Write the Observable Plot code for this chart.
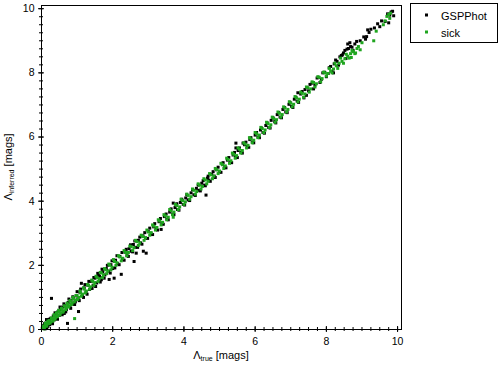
<!DOCTYPE html>
<html><head><meta charset="utf-8">
<script src="https://cdn.jsdelivr.net/npm/d3@7"></script>
<script src="https://cdn.jsdelivr.net/npm/@observablehq/plot@0.6"></script>
<style>body{margin:0;background:#fff} #chart{width:500px;height:366px}</style>
</head><body><div id="chart"></div>
<script>
const seriesNames = ["GSPPhot", "sick"];
const seriesColors = ["#000000", "#1fa51f"];

const gsTrue = [0.03,0.06,0.1,0.12,0.14,0.18,0.2,0.23,0.26,0.28,0.3,0.33,0.36,0.4,0.42,0.46,0.5,0.53,0.56,0.6,0.64,0.66,0.7,0.73,0.75,0.8,0.83,0.87,0.9,0.95,0.98,1.04,1.02,1.08,1.12,1.15,1.2,1.25,1.3,1.35,1.4,1.45,1.5,1.55,1.6,1.63,1.68,1.72,1.78,1.82,1.9,1.88,1.95,2.0,2.04,2.08,2.14,2.2,2.24,2.28,2.35,2.4,2.46,2.52,2.6,2.58,2.66,2.64,2.72,2.78,2.86,2.85,2.94,2.92,3.0,3.08,3.15,3.22,3.3,3.36,3.38,3.45,3.52,3.6,3.7,3.68,3.75,3.82,3.9,3.98,4.05,4.12,4.2,4.28,4.35,4.42,4.5,4.58,4.62,4.68,4.7,4.78,4.85,4.92,5.0,5.08,5.15,5.22,5.3,5.38,5.46,5.46,5.66,5.45,5.52,5.6,5.7,5.78,5.85,5.92,6.0,6.08,6.15,6.22,6.3,6.38,6.45,6.55,6.62,6.7,6.78,6.86,6.95,7.02,7.1,7.2,7.18,7.28,7.37,7.4,7.5,7.6,7.68,7.78,7.86,7.95,8.05,8.12,8.2,8.22,8.3,8.38,8.45,8.52,8.6,8.62,8.68,8.55,8.75,8.8,9.13,9.16,9.2,9.44,9.5,9.75,9.78,9.89,9.82,
  0.08,0.15,0.22,0.31,0.38,0.45,0.52,0.58,0.63,0.68,0.77,0.82,0.88,0.93,1.0,1.06,1.1,1.18,1.22,1.28,1.33,1.42,1.47,1.52,1.58,1.65,1.7,1.76,1.85,1.93,1.98,2.06,2.12,2.18,2.26,2.32,2.38,2.44,2.5,2.56,2.62,2.7,2.76,2.82,2.9,2.98,3.04,3.12,3.18,3.26,3.34,3.42,3.5,3.56,3.64,3.72,3.8,3.86,3.94,4.02,4.08,4.16,4.24,4.32,4.4,4.46,4.54,4.6,4.66,4.74,4.82,4.88,4.96,5.04,5.1,5.18,5.26,5.34,5.42,5.5,5.56,5.64,5.74,5.82,5.88,5.96,6.04,6.12,6.18,6.26,6.34,6.42,6.5,6.58,6.66,6.74,6.82,6.9,6.98,7.06,7.14,7.22,7.32,7.44,7.54,7.64,7.74,7.82,7.9,8.0,8.08,8.16,8.26,8.34,8.42,8.48,8.58,8.66,8.72,8.85,8.95,9.05,9.1,9.25,9.35,9.55,9.65,9.72,9.86];
const gsInf  = [0.05,0.12,0.02,0.2,0.31,0.1,0.26,0.15,0.35,0.97,0.22,0.42,0.3,0.48,0.36,0.55,0.44,0.62,0.5,0.7,0.5,0.74,0.62,0.19,0.84,0.72,0.9,0.8,0.98,0.86,1.05,0.56,0.95,1.16,1.44,1.05,1.3,1.18,1.38,1.25,1.5,1.38,1.6,1.45,1.68,1.66,1.55,1.8,1.7,1.9,1.56,1.82,2.02,1.9,1.6,2.16,2.05,2.28,1.72,2.2,2.42,2.3,2.52,2.44,2.12,2.65,2.38,2.56,2.78,2.7,2.44,2.92,2.38,2.85,3.06,2.98,3.2,3.14,3.36,3.12,3.3,3.52,3.44,3.66,3.94,3.6,3.8,3.74,3.96,3.9,4.1,4.04,4.26,4.2,4.4,4.34,4.56,4.5,4.19,4.78,4.66,4.84,4.78,4.98,4.92,5.14,5.08,5.28,5.22,5.44,5.81,5.66,5.81,5.38,5.58,5.52,5.76,5.7,5.92,5.84,6.06,6.0,6.22,6.14,6.36,6.3,6.52,6.48,6.7,6.62,6.86,6.78,7.02,6.96,7.18,7.38,7.12,7.34,7.22,7.48,7.44,7.68,7.62,7.86,7.8,8.02,7.98,8.2,8.0,8.28,8.36,8.5,8.56,8.7,8.9,8.76,8.82,8.45,8.7,8.9,9.13,9.34,9.26,9.53,9.44,9.56,9.8,9.78,9.9,
  0.18,0.05,0.32,0.18,0.52,0.32,0.7,0.46,0.8,0.55,0.95,0.66,1.02,0.78,1.18,0.9,1.26,1.0,1.4,1.1,1.5,1.28,1.62,1.34,1.75,1.48,1.88,1.6,2.0,1.76,2.14,1.92,2.3,2.02,2.4,2.16,2.5,2.28,2.64,2.42,2.76,2.56,2.88,2.66,3.02,2.84,3.16,2.96,3.3,3.1,3.46,3.28,3.6,3.42,3.76,3.58,3.92,3.72,4.06,3.88,4.2,4.02,4.36,4.18,4.5,4.32,4.64,4.48,4.72,4.62,4.92,4.74,5.06,4.9,5.2,5.04,5.36,5.2,5.52,5.36,5.66,5.5,5.84,5.68,5.98,5.82,6.14,5.98,6.28,6.12,6.44,6.28,6.6,6.44,6.76,6.6,6.92,6.76,7.08,6.92,7.24,7.08,7.42,7.3,7.64,7.5,7.84,7.7,8.0,7.88,8.16,8.04,8.4,8.24,8.54,8.62,8.74,8.94,8.8,8.98,9.0,9.12,9.05,9.36,9.4,9.62,9.6,9.84,9.92];

const skTrue = [0.02,0.05,0.08,0.1,0.13,0.16,0.2,0.22,0.26,0.3,0.33,0.36,0.4,0.43,0.47,0.5,0.54,0.58,0.62,0.66,0.7,0.74,0.78,0.82,0.86,0.9,0.93,0.95,1.0,1.05,1.1,1.15,1.2,1.26,1.32,1.38,1.44,1.5,1.56,1.62,1.68,1.74,1.8,1.86,1.92,1.98,2.05,2.12,2.2,2.28,2.36,2.44,2.52,2.6,2.68,2.76,2.84,2.92,3.0,3.08,3.16,3.24,3.32,3.4,3.48,3.56,3.64,3.7,3.72,3.8,3.88,3.96,4.04,4.12,4.2,4.28,4.36,4.44,4.52,4.6,4.68,4.76,4.84,4.92,5.0,5.08,5.16,5.24,5.32,5.4,5.48,5.56,5.64,5.72,5.8,5.88,5.96,6.04,6.12,6.2,6.28,6.36,6.44,6.52,6.6,6.68,6.76,6.84,6.92,7.0,7.08,7.16,7.24,7.32,7.4,7.48,7.56,7.64,7.72,7.8,7.88,7.96,8.04,8.12,8.2,8.28,8.36,8.44,8.52,8.6,8.68,8.76,8.82,8.7,8.9,9.33,9.0,9.6,9.7,9.78,9.8,
  0.04,0.07,0.11,0.15,0.18,0.24,0.28,0.32,0.35,0.38,0.42,0.45,0.48,0.52,0.56,0.6,0.64,0.68,0.72,0.76,0.8,0.84,0.88,0.92,0.97,1.02,1.08,1.12,1.18,1.23,1.29,1.35,1.41,1.47,1.53,1.59,1.65,1.71,1.77,1.83,1.89,1.95,2.02,2.09,2.16,2.24,2.32,2.4,2.48,2.56,2.64,2.72,2.8,2.88,2.96,3.04,3.12,3.2,3.28,3.36,3.44,3.52,3.6,3.68,3.76,3.84,3.92,4.0,4.08,4.16,4.24,4.32,4.4,4.48,4.56,4.64,4.72,4.8,4.88,4.96,5.04,5.12,5.2,5.28,5.36,5.44,5.52,5.6,5.68,5.76,5.84,5.92,6.0,6.08,6.16,6.24,6.32,6.4,6.48,6.56,6.64,6.72,6.8,6.88,6.96,7.04,7.12,7.2,7.28,7.36,7.44,7.52,7.6,7.68,7.76,7.84,7.92,8.0,8.08,8.16,8.24,8.32,8.4,8.48,8.56,8.64,8.72,8.8,8.86,8.95,9.4,9.65,9.75];
const skInf  = [0.04,0.1,0.06,0.16,0.1,0.2,0.18,0.28,0.24,0.34,0.3,0.42,0.38,0.5,0.44,0.56,0.52,0.62,0.58,0.72,0.68,0.78,0.74,0.88,0.82,0.96,0.34,0.92,1.06,1.0,1.14,1.1,1.26,1.2,1.38,1.33,1.5,1.46,1.62,1.58,1.76,1.7,1.86,1.82,2.0,1.94,2.12,2.08,2.26,2.22,2.4,2.4,2.58,2.55,2.74,2.7,2.9,2.86,3.04,3.02,3.22,3.18,3.38,3.34,3.54,3.5,3.7,3.5,3.66,3.86,3.82,4.02,3.98,4.18,4.14,4.34,4.3,4.5,4.46,4.66,4.62,4.82,4.78,4.98,4.94,5.14,5.1,5.3,5.26,5.46,5.42,5.62,5.58,5.78,5.74,5.94,5.9,6.1,6.06,6.26,6.22,6.42,6.38,6.58,6.54,6.74,6.7,6.9,6.86,7.06,7.02,7.22,7.18,7.36,7.34,7.54,7.5,7.7,7.66,7.86,7.82,8.0,7.98,8.06,8.12,8.22,8.3,8.36,8.44,8.52,8.6,8.66,8.62,8.48,8.82,9.0,8.94,9.5,9.76,9.7,9.86,
  0.08,0.02,0.2,0.12,0.26,0.2,0.36,0.26,0.46,0.32,0.52,0.4,0.6,0.46,0.66,0.54,0.74,0.62,0.82,0.7,0.9,0.78,1.0,0.86,1.06,0.94,1.2,1.04,1.3,1.14,1.4,1.26,1.54,1.38,1.66,1.5,1.78,1.62,1.9,1.74,2.04,1.86,2.18,2.0,2.3,2.14,2.46,2.3,2.6,2.46,2.78,2.62,2.94,2.78,3.1,2.94,3.26,3.1,3.42,3.26,3.58,3.42,3.74,3.58,3.9,3.74,4.06,3.9,4.22,4.06,4.38,4.22,4.54,4.38,4.7,4.54,4.86,4.7,5.02,4.86,5.18,5.02,5.34,5.18,5.5,5.34,5.66,5.5,5.82,5.66,5.98,5.82,6.14,5.98,6.3,6.14,6.46,6.3,6.62,6.46,6.78,6.62,6.94,6.78,7.1,6.94,7.26,7.1,7.4,7.24,7.56,7.4,7.72,7.56,7.88,7.72,8.02,7.9,8.14,8.0,8.3,8.14,8.46,8.3,8.58,8.46,8.7,8.6,8.76,8.72,9.3,9.62,9.82];

const majorTicks = [0, 2, 4, 6, 8, 10];
const minorTicks = [0,0.25,0.5,0.75,1,1.25,1.5,1.75,2,2.25,2.5,2.75,3,3.25,3.5,3.75,4,4.25,4.5,4.75,5,5.25,5.5,5.75,6,6.25,6.5,6.75,7,7.25,7.5,7.75,8,8.25,8.5,8.75,9,9.25,9.5,9.75,10];

const rows = [];
gsTrue.forEach((t, i) => rows.push({series: seriesNames[0], t, inf: gsInf[i]}));
skTrue.forEach((t, i) => rows.push({series: seriesNames[1], t, inf: skInf[i]}));

const blank = () => "";
const plot = Plot.plot({
  width: 500, height: 366,
  marginLeft: 41, marginRight: 99, marginTop: 5, marginBottom: 37,
  x: {domain: [0, 10.11]},
  y: {domain: [0, 10.1]},
  color: {domain: seriesNames, range: seriesColors},
  style: {fontFamily: "Liberation Sans", fontSize: "10.5px", color: "#000", background: "#fff"},
  marks: [
    Plot.dot(rows, {x: "t", y: "inf", fill: "series", symbol: "square", r: 1.7}),
    Plot.frame({stroke: "#000", strokeWidth: 1}),
    Plot.axisX({ticks: minorTicks, tickSize: 4, dy: -2, tickFormat: blank, label: null, stroke: "#000"}),
    Plot.axisX({ticks: majorTicks, tickSize: 6, dy: -3, tickFormat: blank, label: null, stroke: "#000"}),
    Plot.axisX({ticks: majorTicks, tickSize: 0, tickPadding: 8, label: null, fill: "#000"}),
    Plot.axisY({ticks: minorTicks, tickSize: 4, dx: 2, tickFormat: blank, label: null, stroke: "#000"}),
    Plot.axisY({ticks: majorTicks, tickSize: 6, dx: 3, tickFormat: blank, label: null, stroke: "#000"}),
    Plot.axisY({ticks: majorTicks, tickSize: 0, tickPadding: 7, label: null, fill: "#000"})
  ]
});
document.getElementById("chart").appendChild(plot);

const svg = d3.select(plot);
const font = "Liberation Sans";
// x axis label
const xl = svg.append("text").attr("x", 221).attr("y", 359).attr("text-anchor", "middle")
  .attr("font-family", font).attr("font-size", 11).attr("fill", "#000");
xl.append("tspan").text("Λ");
xl.append("tspan").attr("font-size", 7).attr("dy", 2).text("true");
xl.append("tspan").attr("dy", -2).text(" [mags]");
// y axis label
const yl = svg.append("text").attr("transform", "translate(12,167) rotate(-90)").attr("text-anchor", "middle")
  .attr("font-family", font).attr("font-size", 11).attr("fill", "#000");
yl.append("tspan").text("Λ");
yl.append("tspan").attr("font-size", 7).attr("dy", 2).text("inferred");
yl.append("tspan").attr("dy", -2).text(" [mags]");
// legend
const lg = svg.append("g");
lg.append("rect").attr("x", 410.5).attr("y", 3.5).attr("width", 87).attr("height", 39)
  .attr("fill", "#fff").attr("stroke", "#000").attr("stroke-width", 1);
seriesNames.forEach((name, i) => {
  const cy = 15 + i * 17;
  lg.append("rect").attr("x", 425).attr("y", cy - 1.5).attr("width", 3).attr("height", 3).attr("fill", seriesColors[i]);
  lg.append("text").attr("x", 441).attr("y", cy + 4.5).attr("text-anchor", "start").attr("font-family", font)
    .attr("font-size", 11).attr("fill", "#000").text(name);
});
</script>
</body></html>
